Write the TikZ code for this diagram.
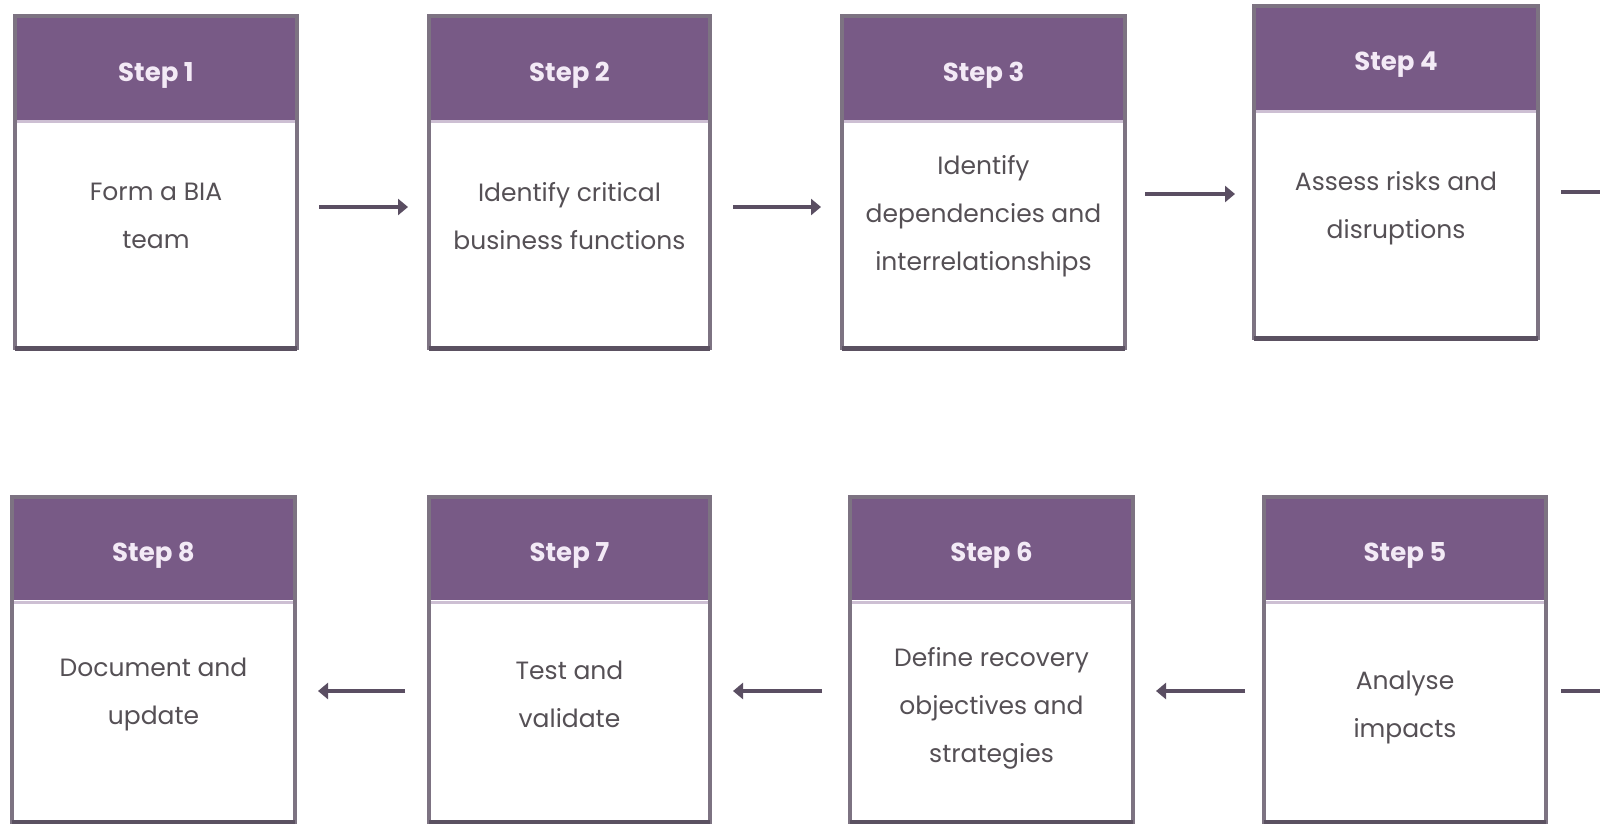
\documentclass[tikz,border=0pt]{standalone}
\usepackage{fontspec}
\setmainfont{Poppins}
\usetikzlibrary{arrows.meta,fit}
\definecolor{hdr}{HTML}{785A86}
\definecolor{bord}{HTML}{7D7382}
\definecolor{bordd}{HTML}{5B5161}
\definecolor{sepc}{HTML}{CDBFD3}
\definecolor{txt}{HTML}{555055}
\definecolor{htxt}{HTML}{F3EAF6}
\definecolor{arr}{HTML}{5A4E62}
\tikzset{
  titletext/.style={font=\fontsize{26}{30}\selectfont\bfseries, text=htxt, inner sep=0pt},
  bodytext/.style={font=\fontsize{25}{48}\selectfont, text=txt, align=center, inner sep=0pt},
  conn/.style={arr, line width=4pt, -{Triangle[length=10pt,width=16pt]}},
  stub/.style={arr, line width=4pt},
}
\newcommand{\stepbox}[9]{%
  \fill[white] (#2,#3) rectangle (#4,#5);
  \fill[hdr] (#2,#3) rectangle (#4,#6);
  \draw[sepc, line width=3pt] (#2,{#6+2}) -- (#4,{#6+2});
  \draw[bord, line width=3.5pt] (#2,#3) rectangle (#4,#5);
  \draw[bordd, line width=5pt] (#2,#5) -- (#4,#5);
  \node[fit={(#2,#3) (#4,#5)}, inner sep=0pt, outer sep=0pt] (#1) {};
  \node[titletext] (#1t) at ({(#2+#4)/2},{(#3+#6)/2+7}) {#7};
  \node[bodytext] (#1b) at ({(#2+#4)/2},#9) {#8};
}
\begin{document}
\begin{tikzpicture}[x=1pt,y=-1pt]
\useasboundingbox (0,0) rectangle (1600,824);
\fill[white] (0,0) rectangle (1600,824);
\stepbox{s1}{15}{16}{297}{348}{120}{Step 1}{Form a BIA\\team}{216}
\stepbox{s2}{429}{16}{710}{348}{120}{Step 2}{Identify critical\\business functions}{216}
\stepbox{s3}{842}{16}{1125}{348}{120}{Step 3}{Identify\\dependencies and\\interrelationships}{216}
\stepbox{s4}{1254}{6}{1538}{338}{110}{Step 4}{Assess risks and\\disruptions}{208}
\stepbox{s8}{12}{497}{295}{822}{600}{Step 8}{Document and\\update}{694}
\stepbox{s7}{429}{497}{710}{822}{600}{Step 7}{Test and\\validate}{694}
\stepbox{s6}{850}{497}{1133}{822}{600}{Step 6}{Define recovery\\objectives and\\strategies}{708}
\stepbox{s5}{1264}{497}{1546}{822}{600}{Step 5}{Analyse\\impacts}{707}
\coordinate (e4) at (1600,192);
\coordinate (e5) at (1600,691);
\draw[conn, shorten <=22pt, shorten >=21pt] ([yshift=-25pt]s1.east) -- ([yshift=-25pt]s2.west);
\draw[conn, shorten <=23pt, shorten >=21pt] ([yshift=-25pt]s2.east) -- ([yshift=-25pt]s3.west);
\draw[conn, shorten <=20pt, shorten >=19pt] ([yshift=-12pt]s3.east) -- ([yshift=-22pt]s4.west);
\draw[stub, shorten <=23pt] ([yshift=-20pt]s4.east) -- (e4);
\draw[stub, shorten >=15pt] (e5) -- ([yshift=-31.5pt]s5.east);
\draw[conn, shorten <=19pt, shorten >=23pt] ([yshift=-31.5pt]s5.west) -- ([yshift=-31.5pt]s6.east);
\draw[conn, shorten <=28pt, shorten >=23pt] ([yshift=-31.5pt]s6.west) -- ([yshift=-31.5pt]s7.east);
\draw[conn, shorten <=24pt, shorten >=23pt] ([yshift=-31.5pt]s7.west) -- ([yshift=-31.5pt]s8.east);
\end{tikzpicture}
\end{document}
